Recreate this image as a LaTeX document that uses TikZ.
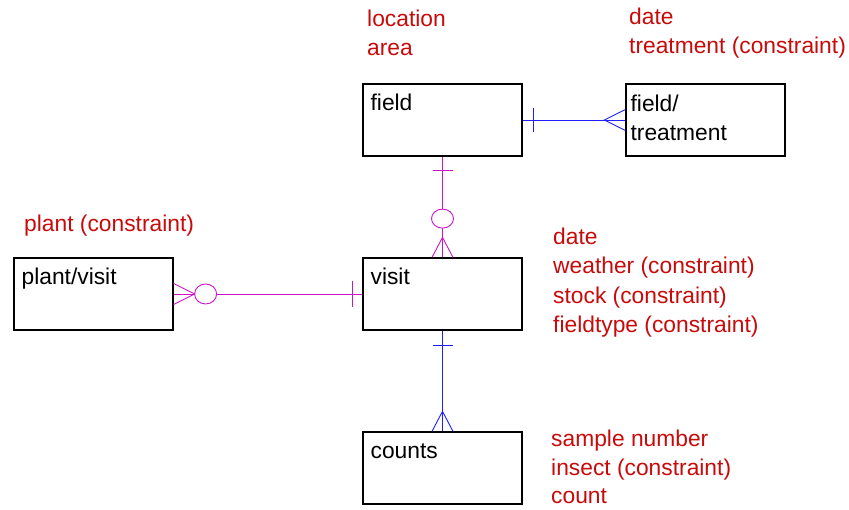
\documentclass[tikz,border=0pt]{standalone}
\usepackage{fontspec}
\setmainfont{Liberation Sans}
\usepackage{xcolor}

\definecolor{attrred}{RGB}{200,10,10}
\definecolor{relpink}{RGB}{204,20,204}
\definecolor{relblue}{RGB}{30,30,255}

\begin{document}
\begin{tikzpicture}[x=1pt, y=1pt,
        every node/.style={font=\fontsize{22.8}{29.2}\selectfont, inner sep=0pt},
        entity/.style={draw, line width=1.2pt, minimum width=159pt, minimum height=72pt},
        ename/.style={anchor=base west},
        attr/.style={text=attrred, align=left, anchor=north west},
        rel/.style={line width=0.9pt},
        ring/.style={rel, draw=relpink, fill=white}]
        \useasboundingbox (0,0) rectangle (849,510);

        % entities
        \node[entity] (field) at (442.5,390) {};
        \node[entity] (treat) at (705.5,390) {};
        \node[entity] (plantvisit) at (93.5,216) {};
        \node[entity] (visit) at (442.5,216) {};
        \node[entity] (counts) at (442.5,42) {};

        \node[ename] (fieldname) at ([shift={(8,-27)}]field.north west) {field};
        \node[anchor=north west, align=left] (treatname) at ([shift={(5,-11)}]treat.north west) {field/\\treatment};
        \node[ename] (pvname) at ([shift={(8,-27)}]plantvisit.north west) {plant/visit};
        \node[ename] (visitname) at ([shift={(8,-27)}]visit.north west) {visit};
        \node[ename] (countsname) at ([shift={(8,-27)}]counts.north west) {counts};

        % attributes
        \node[attr] (fieldattr) at (367,500) {location\\area};
        \node[attr] (treatattr) at (629,502) {date\\treatment (constraint)};
        \node[attr, anchor=base west] (pvattr) at (24,278) {plant (constraint)};
        \node[attr] (visitattr) at (553,282) {date\\weather (constraint)\\stock (constraint)\\fieldtype (constraint)};
        \node[attr, font=\fontsize{22.8}{28.5}\selectfont] (countsattr) at (551,80) {sample number\\insect (constraint)\\count};

        % field -- field/treatment
        \draw[rel, relblue] (field.east) -- (treat.west);
        \draw[rel, relblue] ([shift={(11,12)}]field.east) -- ++(0,-24);
        \draw[rel, relblue] ([yshift=10.5]treat.west) -- ([xshift=-21]treat.west) -- ([yshift=-10.5]treat.west);

        % field -- visit
        \draw[rel, relpink] (field.south) -- (visit.north);
        \draw[rel, relpink] ([shift={(-10,-14)}]field.south) -- ++(20,0);
        \draw[ring] ([yshift=-62]field.south) ellipse [x radius=11, y radius=9.5];
        \draw[rel, relpink] ([xshift=-10.5]visit.north) -- ([yshift=20]visit.north) -- ([xshift=10.5]visit.north);

        % plant/visit -- visit
        \draw[rel, relpink] (plantvisit.east) -- (visit.west);
        \draw[rel, relpink] ([shift={(-10,13)}]visit.west) -- ++(0,-26);
        \draw[ring] ([xshift=32]plantvisit.east) ellipse [x radius=11, y radius=10];
        \draw[rel, relpink] ([yshift=10.5]plantvisit.east) -- ([xshift=21]plantvisit.east) -- ([yshift=-10.5]plantvisit.east);

        % visit -- counts
        \draw[rel, relblue] (visit.south) -- (counts.north);
        \draw[rel, relblue] ([shift={(-10,-15)}]visit.south) -- ++(20,0);
        \draw[rel, relblue] ([xshift=-10.5]counts.north) -- ([yshift=20]counts.north) -- ([xshift=10.5]counts.north);

\end{tikzpicture}
\end{document}
